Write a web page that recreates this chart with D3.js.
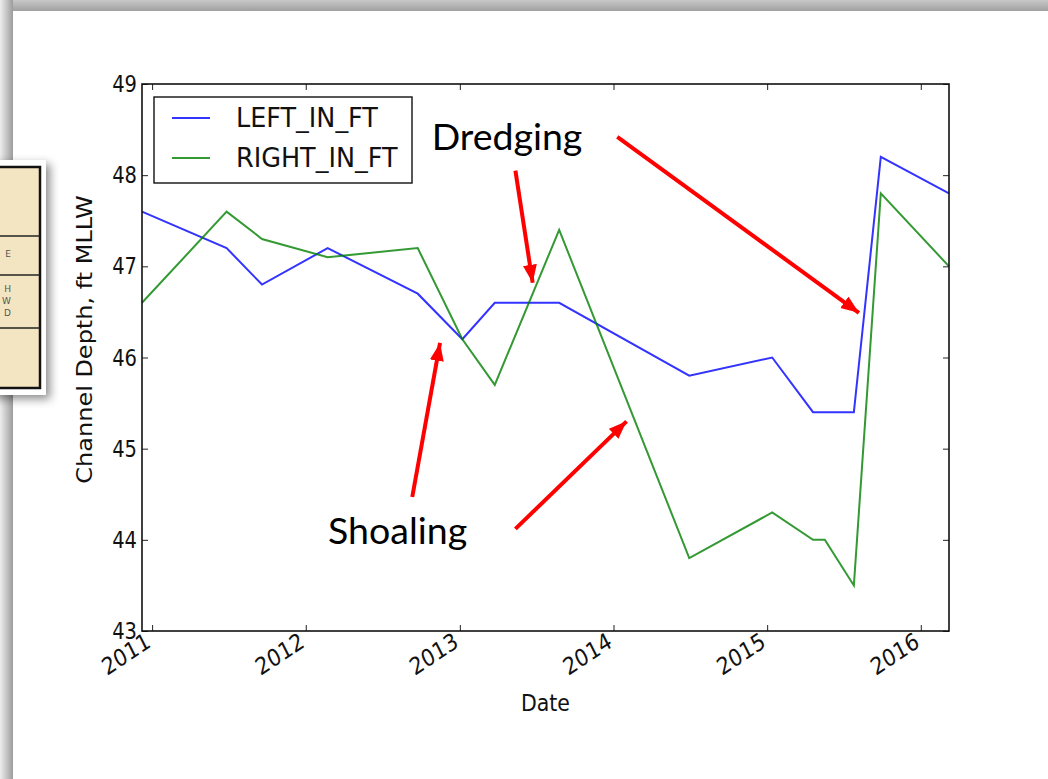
<!DOCTYPE html>
<html>
<head>
<meta charset="utf-8">
<script src="https://cdn.jsdelivr.net/npm/d3@7"></script>
<style>
  html, body { margin: 0; padding: 0; background: #fff; }
  svg { display: block; }
</style>
</head>
<body>
<div id="chart"></div>
<script>
"use strict";
(function() {

const WIDTH = 1048
const HEIGHT = 779

const plot = { left: 142, right: 949, top: 84, bottom: 631 }
// the chart image on the slide is stretched a little vertically
const STRETCH = 1.15

// survey dates and depths
const dates = ["2010-12-08", "2011-06-27", "2011-09-19", "2012-02-22", "2012-09-23",
               "2013-01-07", "2013-03-25", "2013-08-25", "2014-06-30", "2015-01-13",
               "2015-04-20", "2015-05-18", "2015-07-26", "2015-09-28", "2016-03-08"]
const leftFt  = [47.6, 47.2, 46.8, 47.2, 46.7, 46.2, 46.6, 46.6, 45.8, 46.0, 45.4, 45.4, 45.4, 48.2, 47.8]
const rightFt = [46.6, 47.6, 47.3, 47.1, 47.2, 46.2, 45.7, 47.4, 43.8, 44.3, 44.0, 44.0, 43.5, 47.8, 47.0]

const seriesNames = ["LEFT_IN_FT", "RIGHT_IN_FT"]
const seriesColors = ["#0000ff", "#008000"]

const yTicks = [43, 44, 45, 46, 47, 48, 49]
const xTickYears = ["2011", "2012", "2013", "2014", "2015", "2016"]

// slide annotations, in data coordinates
const labels = [
    { text: "Dredging", date: "2012-10-26", value: 48.28 },
    { text: "Shoaling", date: "2012-02-23", value: 43.95 }
]
const arrows = [
    { from: ["2013-05-13", 48.05], to: ["2013-06-23", 46.82] },
    { from: ["2014-01-10", 48.42], to: ["2015-08-07", 46.49] },
    { from: ["2012-09-10", 44.47], to: ["2012-11-15", 46.16] },
    { from: ["2013-05-13", 44.12], to: ["2014-02-01", 45.30] }
]

const parse = d3.timeParse("%Y-%m-%d")
const rows = dates.map((d, i) => ({ date: parse(d), left: leftFt[i], right: rightFt[i] }))

const svg = d3.select("#chart").append("svg")
    .attr("width", WIDTH)
    .attr("height", HEIGHT)
    .style("font-family", "'DejaVu Sans', sans-serif")

const defs = svg.append("defs")

// slide shadow along the top and left edges
let topGrad = defs.append("linearGradient").attr("id", "topShade")
    .attr("x1", 0).attr("y1", 0).attr("x2", 0).attr("y2", 1)
topGrad.append("stop").attr("offset", "0%").attr("stop-color", "#c8c8c8")
topGrad.append("stop").attr("offset", "100%").attr("stop-color", "#a0a0a0")
let leftGrad = defs.append("linearGradient").attr("id", "leftShade")
    .attr("x1", 0).attr("y1", 0).attr("x2", 1).attr("y2", 0)
leftGrad.append("stop").attr("offset", "0%").attr("stop-color", "#eeeeee")
leftGrad.append("stop").attr("offset", "100%").attr("stop-color", "#9c9c9c")

defs.append("filter").attr("id", "tblShadow")
    .attr("x", "-20%").attr("y", "-10%").attr("width", "160%").attr("height", "130%")
    .append("feDropShadow")
    .attr("dx", 4).attr("dy", 4).attr("stdDeviation", 5)
    .attr("flood-color", "#000").attr("flood-opacity", 0.45)

defs.append("marker").attr("id", "redHead")
    .attr("markerUnits", "userSpaceOnUse")
    .attr("markerWidth", 20).attr("markerHeight", 16)
    .attr("refX", 18).attr("refY", 7)
    .attr("orient", "auto")
    .append("path").attr("d", "M0,0 L18,7 L0,14 Z").attr("fill", "#ff0000")

svg.append("rect").attr("x", 0).attr("y", 0).attr("width", WIDTH).attr("height", 11)
    .attr("fill", "url(#topShade)")
svg.append("rect").attr("x", 0).attr("y", 0).attr("width", 13).attr("height", HEIGHT)
    .attr("fill", "url(#leftShade)")

// clipped piece of a neighbouring table on the slide
let tbl = svg.append("g")
tbl.append("rect").attr("x", -10).attr("y", 160).attr("width", 56).attr("height", 235)
    .attr("fill", "#fff").attr("filter", "url(#tblShadow)")
tbl.append("rect").attr("x", -10).attr("y", 167).attr("width", 50).attr("height", 221)
    .attr("fill", "#f3e5c2").attr("stroke", "#111").attr("stroke-width", 2.5)
;[236, 275, 328].forEach(y => {
    tbl.append("line").attr("x1", 0).attr("x2", 40).attr("y1", y).attr("y2", y)
        .attr("stroke", "#222").attr("stroke-width", 1.5)
})
;[["E", 257], ["H", 292], ["W", 304], ["D", 316]].forEach(t => {
    tbl.append("text").text(t[0]).attr("x", 11).attr("y", t[1])
        .attr("text-anchor", "end").attr("font-size", 9).attr("fill", "#555")
})

// scales
const x_scale = d3.scaleTime()
    .domain(d3.extent(rows, d => d.date))
    .range([plot.left, plot.right])
const y_scale = d3.scaleLinear()
    .domain([43, 49])
    .range([plot.bottom, plot.top])

const xTickDates = xTickYears.map(y => parse(y + "-01-01"))

// axes, matplotlib classic style: ticks inside on all four sides
let gx = svg.append("g").attr("transform", `translate(0,${plot.bottom})`)
    .call(d3.axisBottom(x_scale).tickValues(xTickDates).tickSize(-6).tickFormat(""))
let gxTop = svg.append("g").attr("transform", `translate(0,${plot.top})`)
    .call(d3.axisTop(x_scale).tickValues(xTickDates).tickSize(-6).tickFormat(""))
let gy = svg.append("g").attr("transform", `translate(${plot.left},0)`)
    .call(d3.axisLeft(y_scale).tickValues(yTicks).tickSize(-6).tickFormat(""))
let gyRight = svg.append("g").attr("transform", `translate(${plot.right},0)`)
    .call(d3.axisRight(y_scale).tickValues(yTicks).tickSize(-6).tickFormat(""))

;[gx, gxTop, gy, gyRight].forEach(g => {
    g.select(".domain").remove()
    g.selectAll(".tick line").attr("stroke", "#222").attr("stroke-width", 1)
})

// y tick labels (stretched like the original image)
svg.append("g").selectAll("text").data(yTicks).join("text")
    .attr("transform", d => `translate(${plot.left - 5},${y_scale(d)}) scale(1,${STRETCH})`)
    .attr("text-anchor", "end")
    .attr("dy", "0.36em")
    .attr("font-size", 19.5)
    .attr("fill", "#111")
    .text(d => d)

// rotated date labels
svg.append("g").selectAll("text").data(xTickDates).join("text")
    .attr("transform", d => `translate(${x_scale(d)},${plot.bottom + 15}) scale(1,${STRETCH}) rotate(-30)`)
    .attr("text-anchor", "end")
    .attr("font-size", 20.5)
    .attr("fill", "#111")
    .text(d => d3.timeFormat("%Y")(d))

// data lines
const lineLeft = d3.line().x(d => x_scale(d.date)).y(d => y_scale(d.left))
const lineRight = d3.line().x(d => x_scale(d.date)).y(d => y_scale(d.right))
svg.append("path").datum(rows).attr("d", lineLeft)
    .attr("fill", "none").attr("stroke", seriesColors[0]).attr("stroke-width", 2)
    .attr("stroke-opacity", 0.8)
svg.append("path").datum(rows).attr("d", lineRight)
    .attr("fill", "none").attr("stroke", seriesColors[1]).attr("stroke-width", 2)
    .attr("stroke-opacity", 0.8)

// frame
svg.append("rect").attr("x", plot.left).attr("y", plot.top)
    .attr("width", plot.right - plot.left).attr("height", plot.bottom - plot.top)
    .attr("fill", "none").attr("stroke", "#111").attr("stroke-width", 1.6)

// axis labels
svg.append("text").text("Date")
    .attr("transform", `translate(${(plot.left + plot.right) / 2},711) scale(1,${STRETCH})`)
    .attr("text-anchor", "middle").attr("font-size", 20.5).attr("fill", "#111")
svg.append("text").text("Channel Depth, ft MLLW")
    .attr("transform", `translate(92,${(plot.top + plot.bottom) / 2 - 18}) scale(${1 / STRETCH},1) rotate(-90)`)
    .attr("text-anchor", "middle").attr("font-size", 24).attr("fill", "#111")

// legend
let legend = svg.append("g")
legend.append("rect").attr("x", 154).attr("y", 97).attr("width", 258).attr("height", 86)
    .attr("fill", "#fff").attr("stroke", "#111").attr("stroke-width", 1.4)
seriesNames.forEach((name, i) => {
    let yy = 118 + i * 40
    legend.append("line").attr("x1", 172).attr("x2", 210).attr("y1", yy).attr("y2", yy)
        .attr("stroke", seriesColors[i]).attr("stroke-width", 2).attr("stroke-opacity", 0.8)
    legend.append("text").text(name)
        .attr("transform", `translate(236,${yy + 9}) scale(1,1.05)`)
        .attr("font-size", 25.5).attr("fill", "#111")
})

// red arrows and slide labels
svg.append("g").selectAll("line").data(arrows).join("line")
    .attr("x1", d => x_scale(parse(d.from[0]))).attr("y1", d => y_scale(d.from[1]))
    .attr("x2", d => x_scale(parse(d.to[0]))).attr("y2", d => y_scale(d.to[1]))
    .attr("stroke", "#ff0000").attr("stroke-width", 4)
    .attr("marker-end", "url(#redHead)")

svg.append("g").selectAll("text").data(labels).join("text")
    .attr("x", d => x_scale(parse(d.date))).attr("y", d => y_scale(d.value))
    .attr("font-family", "Lato, 'Open Sans', sans-serif")
    .attr("font-size", 37.5).attr("fill", "#000")
    .text(d => d.text)

})();
</script>
</body>
</html>
